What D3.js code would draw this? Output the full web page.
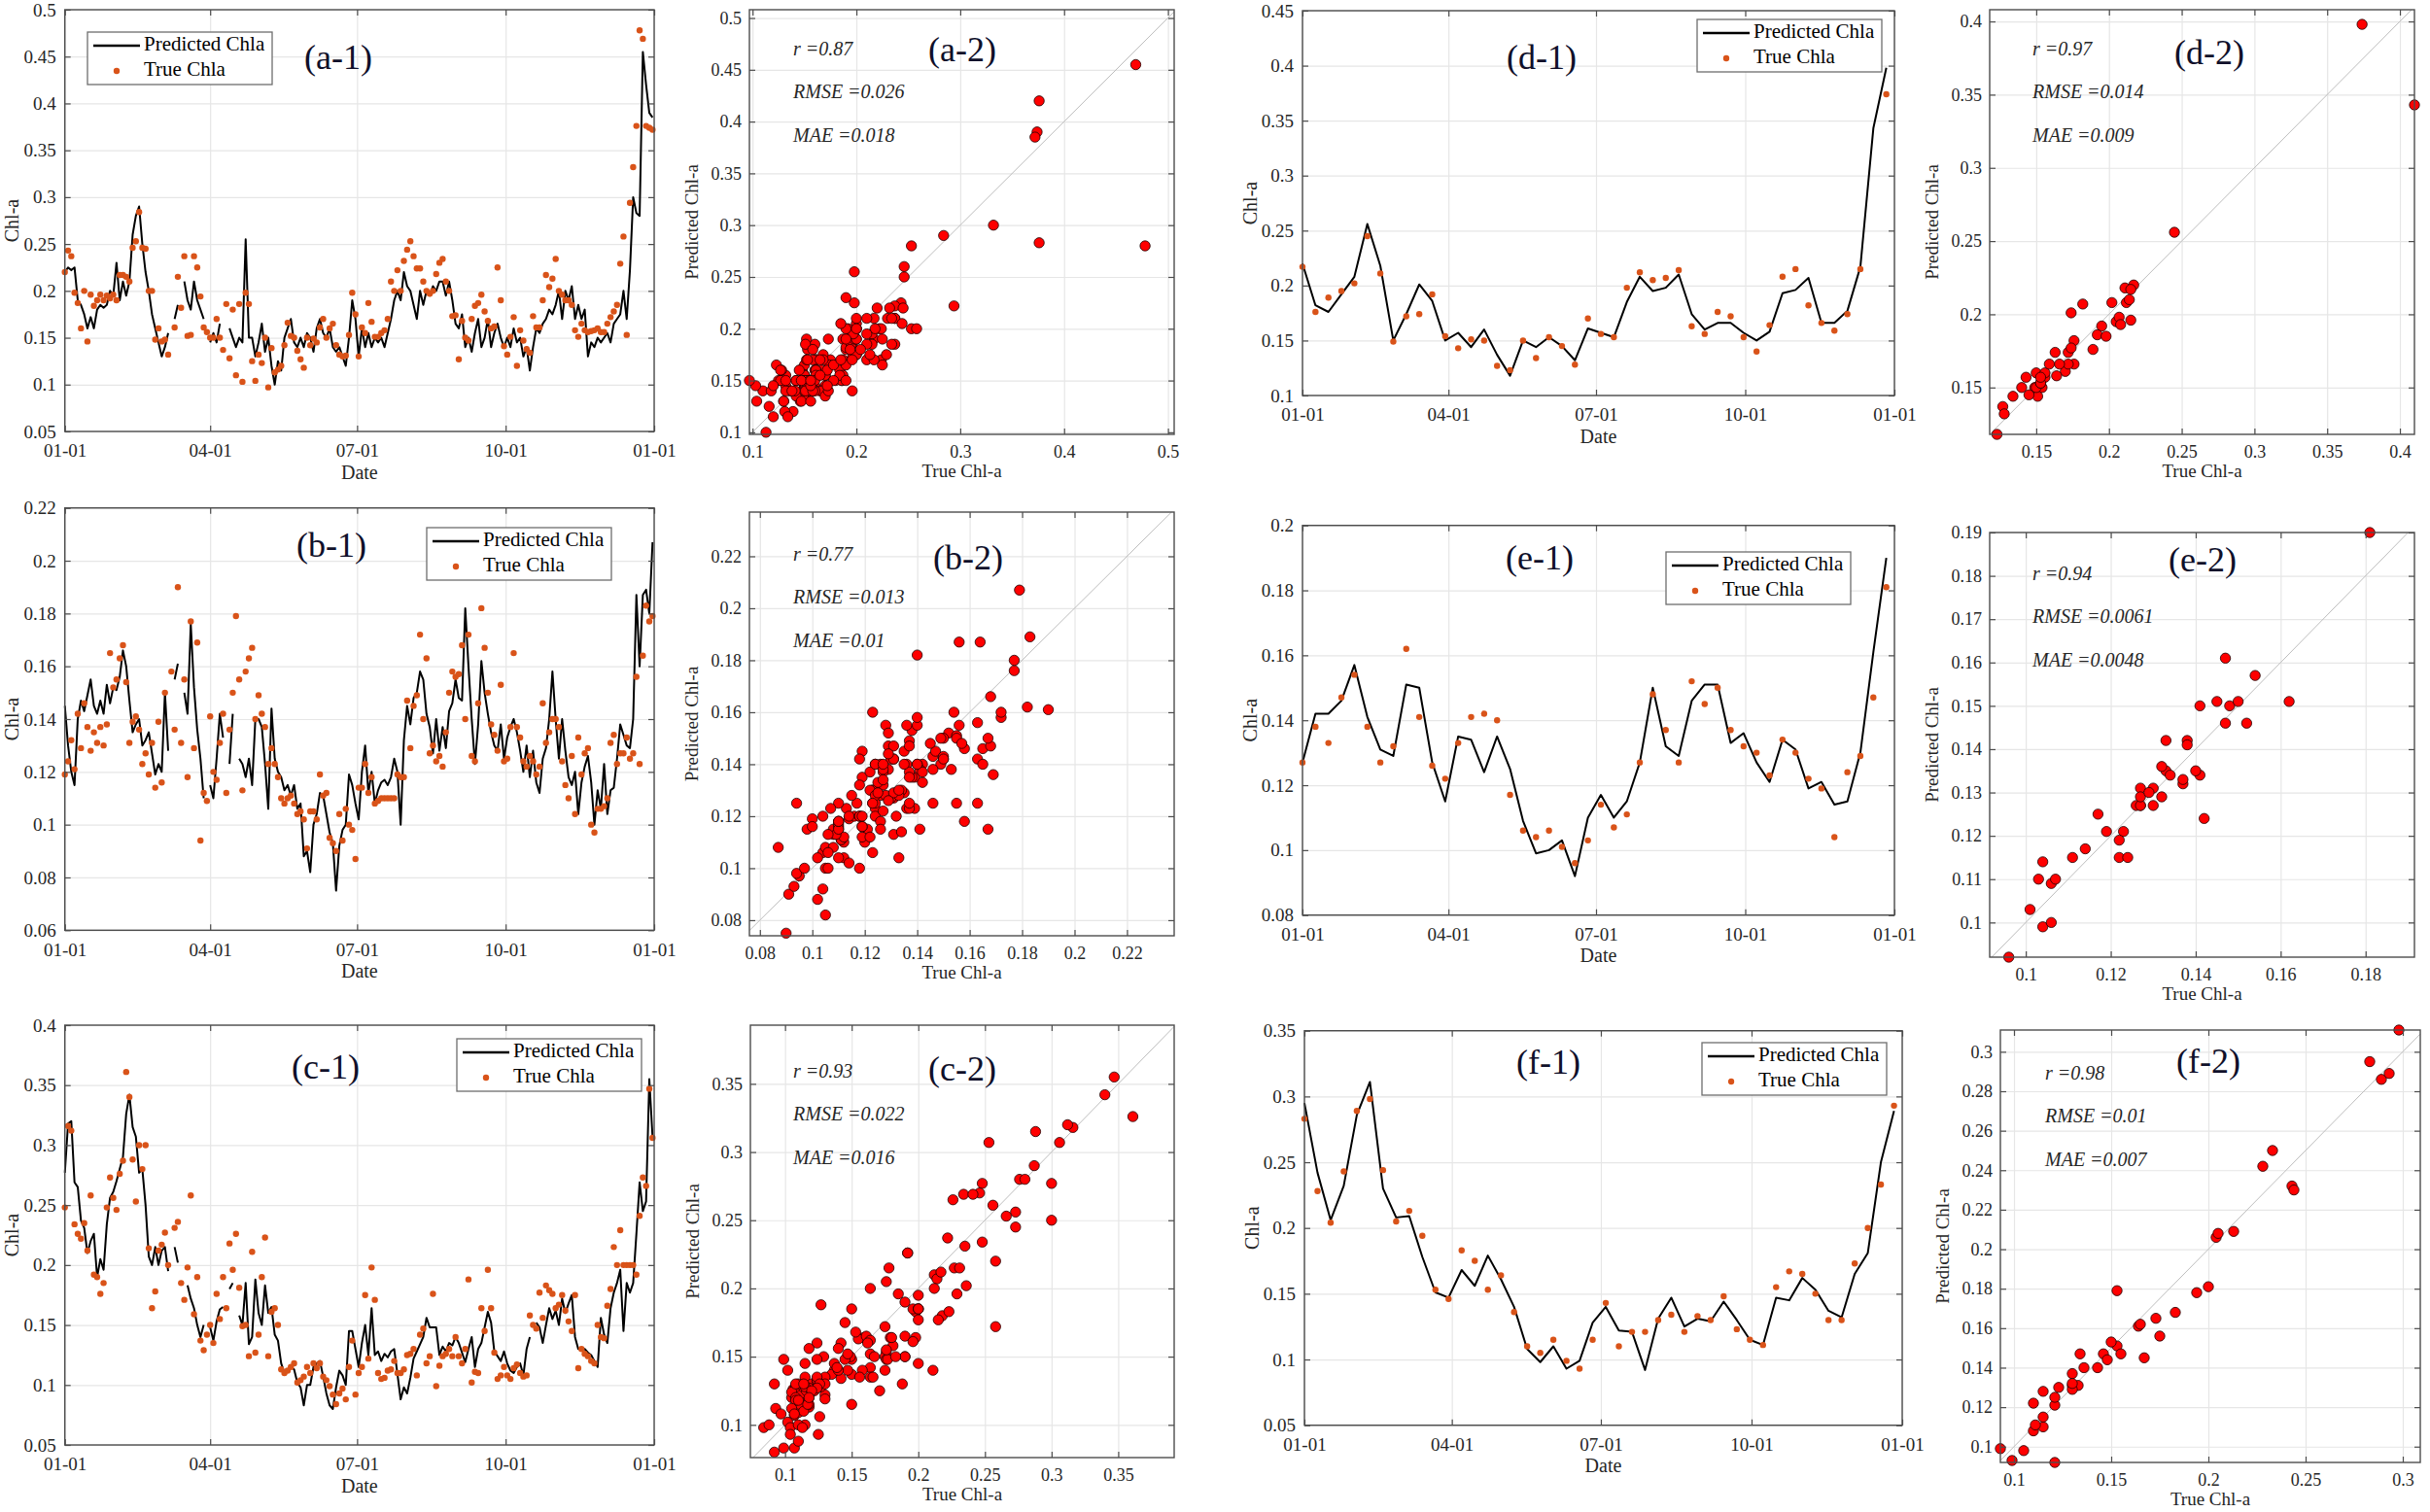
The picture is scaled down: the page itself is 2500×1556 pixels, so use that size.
<!DOCTYPE html>
<html>
<head>
<meta charset="utf-8">
<script src="https://cdn.jsdelivr.net/npm/d3@7"></script>
<style>
  body { margin: 0; background: #fff; }
  text { font-family: "Liberation Serif", "DejaVu Serif", serif; }
</style>
</head>
<body>
<svg id="chart"></svg>
<script>
// sample days (day of year) : daily panels every 2nd day, 8-day composites for d/e/f
const dayDaily = d3.range(0, 365, 2);
const day8 = d3.range(0, 361, 8);

const dateTicks = [0, 90, 181, 273, 365];
const dateLabels = ["01-01", "04-01", "07-01", "10-01", "01-01"];

// (a) predicted / true
const predA = [.22,.225,.222,.225,.19,.185,.175,.16,.172,.16,
  .18,.185,.182,.185,.2,.195,.23,.19,.21,.195,
  .21,.26,.28,.29,.25,.22,.2,.175,.16,.145,
  .13,.14,.155,null,.17,.185,null,.21,.19,.18,
  .21,.19,.18,.17,null,.145,.155,.145,.165,null,
  null,.16,.15,.14,.15,.145,.255,.15,.15,.13,
  .145,.165,.135,.15,.12,.1,.125,.115,.15,.16,
  .17,.145,.14,.15,.14,.155,.15,.135,.16,.17,
  .155,.15,.16,.14,.135,.14,.13,.12,.15,.19,
  .17,.13,.16,.14,.155,.14,.15,.145,.15,.14,
  .155,.17,.19,.2,.19,.22,.205,.2,.185,.17,
  .2,.185,.2,.195,.205,.2,.21,.21,.195,.21,
  .19,.165,.16,.175,.14,.15,.135,.155,.17,.14,
  .15,.17,.14,.155,.165,.15,.14,.15,.14,.16,
  .145,.15,.13,.14,.115,.14,.16,.155,.165,.17,
  .18,.175,.185,.2,.17,.2,.19,.205,.17,.185,
  .17,.18,.13,.145,.14,.15,.145,.15,.155,.145,
  .165,.17,.175,.2,.17,.222,.30,.283,.28,.455,
  .42,.39,.385];
const trueA = [.22,.243,.237,.198,.187,.16,.2,.146,.196,.184,
  .19,.196,.19,.195,.192,.196,.19,.217,.217,.215,
  .21,.246,.253,.284,.246,.245,.2,.2,.148,.16,
  .146,.148,.132,null,.161,.215,.182,.237,.152,.153,
  .237,.225,.194,.161,.156,.15,.15,.17,.15,.137,
  .186,.128,.18,.11,.186,.103,.198,.186,.125,.104,
  .132,.123,.15,.097,.139,.113,.116,.12,.142,.166,
  .152,.15,.136,.127,.118,.15,.142,.149,.145,.161,
  .17,.15,.16,.165,.142,.132,.13,.131,.153,.198,
  .175,.13,.161,.155,.187,.167,.151,.151,.155,.158,
  .17,.21,.2,.222,.2,.232,.244,.253,.237,.224,
  .224,.21,.2,.197,.2,.218,.23,.234,.21,.2,
  .173,.174,.127,.168,.15,.147,.17,.184,.187,.196,
  .178,.168,.16,.162,.225,.19,.141,.132,.151,.172,
  .12,.158,.147,.138,.134,.173,.161,.161,.19,.217,
  .204,.213,.234,.2,.196,.19,.19,.185,.158,.151,
  .165,.158,.156,.157,.158,.16,.156,.156,.165,.172,
  .178,.185,.229,.258,.153,.294,.332,.376,.478,.469,
  .376,.374,.372];

// (b)
const predB = [.145,.13,.12,.115,.14,.147,.143,.149,.155,.145,
  .142,.147,.142,.153,.146,.152,.151,.156,.166,.16,
  .147,.135,.138,.14,.13,.132,.135,.127,.119,.123,
  .12,.15,.128,null,.155,.161,null,.15,.142,.176,
  .152,.136,.125,.11,null,.115,.11,.125,.142,.133,
  null,.123,.142,null,.125,.123,.118,.125,.115,.14,
  .14,.137,.123,.106,.144,.125,.12,.118,.113,.115,
  .111,.115,.106,.108,.088,.09,.082,.1,.104,.112,
  .111,.104,.097,.093,.075,.092,.098,.1,.119,.115,
  .108,.102,.12,.13,.112,.12,.108,.113,.116,.117,
  .115,.118,.125,.12,.1,.132,.145,.138,.148,.15,
  .158,.155,.142,.137,.127,.14,.128,.137,.129,.143,
  .146,.155,.148,.147,.182,.16,.14,.123,.138,.162,
  .15,.142,.135,.13,.128,.138,.125,.133,.137,.14,
  .135,.128,.12,.13,.118,.128,.116,.112,.125,.129,
  .14,.158,.14,.125,.14,.128,.118,.115,.12,.104,
  .116,.122,.126,.116,.1,.113,.106,.123,.104,.113,
  .114,.125,.138,.134,.13,.129,.14,.187,.16,.187,
  .189,.18,.207];
const trueB = [.119,.124,.132,.121,.142,.129,.146,.137,.128,.135,
  .131,.137,.13,.138,.165,.152,.155,.163,.168,.154,
  .131,.139,.141,.136,.123,.127,.119,.131,.114,.139,
  .116,.15,null,.158,.136,.19,.131,.155,.118,.177,
  .129,.169,.094,.112,.109,.141,.12,.117,.131,.142,
  .112,.136,.15,.179,.155,.113,.158,.163,.167,.14,
  .149,.142,.137,.123,.129,.123,.118,.11,.108,.11,
  .111,.108,.104,.105,.102,.091,.105,.105,.102,.119,
  .111,.112,.095,.093,.09,.104,.094,.106,.1,.098,
  .087,.114,.114,.123,.112,.118,.108,.109,.11,.11,
  .11,.11,.11,.119,.118,.118,.147,.129,.145,.149,
  .172,.14,.163,.127,.13,.124,.126,.122,.135,.15,
  .158,.156,.157,.168,.14,.172,.126,.124,.146,.182,
  .167,.15,.138,.134,.128,.153,.124,.125,.137,.165,
  .137,.133,.124,.122,.126,.124,.119,.122,.146,.131,
  .135,.14,.14,.137,.124,.115,.11,.126,.104,.133,
  .119,.127,.129,.1,.097,.106,.106,.107,.11,.131,
  .134,.123,.127,.127,.133,.125,.127,.156,.123,.164,
  .183,.177,.179];

// (c)
const predC = [.277,.318,.32,.269,.265,.237,.231,.21,.22,.226,
  .19,.205,.196,.234,.256,.261,.27,.28,.29,.326,
  .342,.315,.307,.277,.28,.25,.207,.2,.215,.2,
  .212,.215,.195,null,.215,.202,null,null,.183,.172,
  .164,.15,.14,.15,null,.148,.137,.153,.163,.165,
  null,.18,.185,null,.158,.15,.185,.134,.14,.188,
  .16,.15,.183,.16,.165,.142,.137,.118,.11,.112,
  .115,.113,.102,.098,.083,.1,.1,.115,.118,.12,
  .107,.093,.083,.08,.098,.112,.108,.1,.145,.145,
  .13,.115,.135,.15,.125,.164,.125,.128,.12,.126,
  .123,.128,.13,.109,.088,.098,.093,.106,.122,.128,
  .134,.14,.156,.148,.148,.148,.125,.132,.128,.135,
  .133,.14,.135,.127,.119,.13,.14,.115,.13,.135,
  .148,.161,.152,.128,.124,.12,.128,.118,.112,.11,
  .115,.118,.108,.13,.14,null,.152,.148,.135,.15,
  .164,.155,.162,.15,.172,.16,.168,.175,.14,.13,
  .13,.13,.127,.125,.12,.115,.156,.142,.135,.164,
  .177,.185,.196,.145,.185,.177,.185,.226,.269,.245,
  .253,.355,.307];
const trueC = [.248,.316,.312,.234,.226,.222,.235,.212,.258,.192,
  .19,.176,.185,.248,.273,.256,.246,.276,.287,.361,
  .34,.288,.253,.3,.28,.3,.214,.164,.178,.212,
  .217,.227,.2,null,.231,.236,.185,.171,.198,.258,
  .159,.19,.137,.129,.142,.15,.135,.176,.155,.19,
  .164,.218,.196,.226,.181,.149,.15,.124,.211,.127,
  .142,.19,.223,.124,.161,.164,.15,.113,.11,.112,
  .115,.118,.102,.104,.107,.115,.11,.118,.114,.118,
  .107,.104,.099,.092,.084,.093,.097,.088,.115,.137,
  .092,.11,.115,.175,.122,.198,.171,.11,.105,.106,
  .112,.113,.12,.11,.11,.113,.125,.126,.13,.108,
  .142,.147,.118,.124,.176,.099,.116,.124,.126,.13,
  .124,.14,.124,.118,.13,.188,.102,.111,.11,.164,
  .145,.196,.164,.127,.105,.108,.115,.108,.105,.114,
  .117,.11,.107,.108,.158,.15,.147,.177,.156,.183,
  .179,.176,.164,.167,.175,.162,.153,.145,.175,.114,
  .13,.126,.124,.12,.118,.15,.14,.139,.166,.18,
  .215,.2,.229,.2,.2,.2,.2,.192,.241,.273,
  .266,.347,.306];

// (d), (e), (f) 8-day
const predD = [.22,.182,.176,.192,.208,.256,.218,.15,.174,.201,.186,.15,.157,.144,.16,.137,.118,.15,.144,.153,.145,.132,.161,.157,.153,.185,.208,.195,.198,.21,.174,.16,.166,.166,.157,.15,.158,.193,.196,.207,.166,.166,.177,.217,.343,.398];
const trueD = [.217,.176,.189,.195,.202,.245,.211,.149,.172,.174,.192,.154,.143,.151,.15,.127,.123,.15,.134,.153,.145,.128,.17,.156,.153,.198,.212,.205,.207,.214,.163,.156,.176,.172,.153,.14,.164,.208,.215,.182,.166,.159,.174,.215,.41,.374];
const predE = [.127,.142,.142,.146,.157,.141,.131,.129,.151,.15,.127,.115,.135,.134,.124,.135,.125,.109,.099,.1,.103,.092,.11,.117,.11,.115,.127,.15,.132,.129,.146,.151,.151,.133,.136,.127,.121,.134,.131,.119,.121,.114,.115,.13,.161,.19];
const trueE = [.127,.138,.133,.147,.154,.138,.127,.132,.162,.141,.126,.122,.133,.141,.142,.14,.117,.106,.104,.106,.101,.096,.103,.114,.107,.111,.127,.148,.137,.127,.152,.145,.15,.137,.132,.13,.123,.134,.13,.122,.119,.104,.124,.129,.147,.181];
const predF = [.295,.242,.206,.232,.286,.311,.23,.208,.209,.178,.151,.147,.168,.156,.179,.161,.14,.108,.098,.11,.093,.099,.128,.14,.122,.121,.092,.131,.147,.125,.131,.129,.144,.13,.115,.111,.147,.145,.162,.153,.137,.132,.165,.181,.25,.289];
const trueF = [.283,.228,.204,.243,.289,.298,.244,.205,.213,.194,.153,.146,.183,.175,.153,.164,.136,.11,.105,.115,.099,.093,.115,.143,.11,.121,.121,.13,.134,.121,.133,.13,.148,.123,.115,.111,.155,.167,.165,.15,.13,.13,.173,.2,.233,.293];

// scores
const statR = ["0.87", "0.77", "0.93", "0.97", "0.94", "0.98"];
const statRMSE = ["0.026", "0.013", "0.022", "0.014", "0.0061", "0.01"];
const statMAE = ["0.018", "0.01", "0.016", "0.009", "0.0048", "0.007"];

// tick values
const ticksA = [.05,.1,.15,.2,.25,.3,.35,.4,.45,.5];
const ticksB = [.06,.08,.1,.12,.14,.16,.18,.2,.22];
const ticksC = [.05,.1,.15,.2,.25,.3,.35,.4];
const ticksD = [.1,.15,.2,.25,.3,.35,.4,.45];
const ticksE = [.08,.1,.12,.14,.16,.18,.2];
const ticksF = [.05,.1,.15,.2,.25,.3,.35];
const sxA = [.1,.2,.3,.4,.5], syA = [.1,.15,.2,.25,.3,.35,.4,.45,.5];
const sxB = [.08,.1,.12,.14,.16,.18,.2,.22], syB = sxB;
const sxC = [.1,.15,.2,.25,.3,.35], syC = sxC;
const sxD = [.15,.2,.25,.3,.35,.4], syD = sxD;
const sxE = [.1,.12,.14,.16,.18], syE = [.1,.11,.12,.13,.14,.15,.16,.17,.18,.19];
const sxF = [.1,.15,.2,.25,.3], syF = [.1,.12,.14,.16,.18,.2,.22,.24,.26,.28,.3];

const GRID = "#e6e6e6";
const AXIS = "#4d4d4d";
const INK = "#262626";
const TRUE_COLOR = "#d95319";
const LABEL_INK = "#10102a";
const fmt = d3.format("~g");

const svg = d3.select("#chart")
    .attr("width", 2500)
    .attr("height", 1556);
svg.append("rect").attr("width", 2500).attr("height", 1556).attr("fill", "#fff");

// grid lines under the data
function frame(g, x, y, xt, yt, x0, x1, y0, y1) {
    g.append("g").attr("transform", `translate(${x0},0)`)
        .call(d3.axisLeft(y).tickValues(yt).tickSize(-(x1 - x0)).tickFormat(""))
        .call(s => s.select(".domain").remove())
        .call(s => s.selectAll("line").attr("stroke", GRID).attr("stroke-width", 1.2));
    g.append("g").attr("transform", `translate(0,${y1})`)
        .call(d3.axisBottom(x).tickValues(xt).tickSize(-(y1 - y0)).tickFormat(""))
        .call(s => s.select(".domain").remove())
        .call(s => s.selectAll("line").attr("stroke", GRID).attr("stroke-width", 1.2));
}

// box with inward ticks on all four sides
function axes(g, x, y, xt, yt, x0, x1, y0, y1, xFmt, fs, padX, padY) {
    const styleAx = s => {
        s.select(".domain").remove();
        s.selectAll("line").attr("stroke", AXIS).attr("stroke-width", 1.2);
        s.selectAll("text").attr("fill", INK).style("font-size", fs + "px")
            .style("font-family", "'Liberation Serif', serif");
    };
    g.append("g").attr("transform", `translate(${x0},0)`)
        .call(d3.axisLeft(y).tickValues(yt).tickSize(-6).tickPadding(padY).tickFormat(fmt)).call(styleAx);
    g.append("g").attr("transform", `translate(${x1},0)`)
        .call(d3.axisRight(y).tickValues(yt).tickSize(-6).tickFormat("")).call(styleAx);
    g.append("g").attr("transform", `translate(0,${y1})`)
        .call(d3.axisBottom(x).tickValues(xt).tickSize(-6).tickPadding(padX).tickFormat(xFmt)).call(styleAx);
    g.append("g").attr("transform", `translate(0,${y0})`)
        .call(d3.axisTop(x).tickValues(xt).tickSize(-6).tickFormat("")).call(styleAx);
    g.append("rect")
        .attr("x", x0).attr("y", y0)
        .attr("width", x1 - x0).attr("height", y1 - y0)
        .attr("fill", "none").attr("stroke", AXIS).attr("stroke-width", 1.4);
}

// time series panels
const seriesPanels = [
    { name: "(a-1)", days: dayDaily, pred: predA, obs: trueA, yDom: [.05, .5], yt: ticksA,
      box: [66.7, 673, 10, 444], tag: [348, 63], leg: [90, 33] },
    { name: "(b-1)", days: dayDaily, pred: predB, obs: trueB, yDom: [.06, .22], yt: ticksB,
      box: [66.7, 673, 522.7, 957.3], tag: [341, 565], leg: [439, 543] },
    { name: "(c-1)", days: dayDaily, pred: predC, obs: trueC, yDom: [.05, .4], yt: ticksC,
      box: [66.7, 673, 1055, 1487], tag: [335, 1102], leg: [470, 1069] },
    { name: "(d-1)", days: day8, pred: predD, obs: trueD, yDom: [.1, .45], yt: ticksD,
      box: [1340, 1949, 11, 407], tag: [1586, 63], leg: [1746, 20] },
    { name: "(e-1)", days: day8, pred: predE, obs: trueE, yDom: [.08, .2], yt: ticksE,
      box: [1340, 1949, 540.7, 941.7], tag: [1584, 578], leg: [1714, 568] },
    { name: "(f-1)", days: day8, pred: predF, obs: trueF, yDom: [.05, .35], yt: ticksF,
      box: [1342, 1957, 1060.7, 1466.7], tag: [1593, 1097], leg: [1751, 1073] }
];

seriesPanels.forEach(p => {
    const [x0, x1, y0, y1] = p.box;
    const x = d3.scaleLinear().domain([0, 365]).range([x0, x1]);
    const y = d3.scaleLinear().domain(p.yDom).range([y1, y0]);
    const g = svg.append("g");
    const rows = p.days.map((d, i) => ({ day: d, p: p.pred[i], t: p.obs[i] }));

    frame(g, x, y, dateTicks, p.yt, x0, x1, y0, y1);

    g.append("path")
        .datum(rows)
        .attr("d", d3.line().defined(r => r.p != null).x(r => x(r.day)).y(r => y(r.p)))
        .attr("fill", "none")
        .attr("stroke", "#000")
        .attr("stroke-width", 2)
        .attr("stroke-linejoin", "round");

    g.append("g").selectAll("circle")
        .data(rows.filter(r => r.t != null))
        .join("circle")
        .attr("cx", r => x(r.day))
        .attr("cy", r => y(r.t))
        .attr("r", 3.2)
        .attr("fill", TRUE_COLOR);

    axes(g, x, y, dateTicks, p.yt, x0, x1, y0, y1, (d, i) => dateLabels[i], 19, 13, 9);

    g.append("text")
        .attr("transform", `translate(${x0 - 52},${(y0 + y1) / 2}) rotate(-90)`)
        .attr("text-anchor", "middle")
        .attr("dominant-baseline", "middle")
        .style("font-size", "20px")
        .attr("fill", INK)
        .text("Chl-a");
    g.append("text")
        .attr("x", (x0 + x1) / 2)
        .attr("y", y1 + 44)
        .attr("text-anchor", "middle")
        .attr("dominant-baseline", "middle")
        .style("font-size", "20px")
        .attr("fill", INK)
        .text("Date");

    g.append("text")
        .attr("x", p.tag[0]).attr("y", p.tag[1])
        .attr("text-anchor", "middle")
        .attr("dominant-baseline", "middle")
        .style("font-size", "36px")
        .attr("fill", LABEL_INK)
        .text(p.name);

    // legend
    const [lx, ly] = p.leg;
    const lg = g.append("g").attr("transform", `translate(${lx},${ly})`);
    lg.append("rect")
        .attr("width", 190).attr("height", 54)
        .attr("fill", "#fff").attr("stroke", "#6e6e6e").attr("stroke-width", 1.3);
    lg.append("line")
        .attr("x1", 6).attr("x2", 54).attr("y1", 14).attr("y2", 14)
        .attr("stroke", "#000").attr("stroke-width", 2.5);
    lg.append("circle").attr("cx", 30).attr("cy", 40).attr("r", 3.2).attr("fill", TRUE_COLOR);
    lg.append("text").attr("x", 58).attr("y", 14)
        .attr("dominant-baseline", "middle").style("font-size", "21px").attr("fill", "#000")
        .text("Predicted Chla");
    lg.append("text").attr("x", 58).attr("y", 40)
        .attr("dominant-baseline", "middle").style("font-size", "21px").attr("fill", "#000")
        .text("True Chla");
});

// scatter panels
const scatterPanels = [
    { name: "(a-2)", pred: predA, obs: trueA, xDom: [.097, .506], yDom: [.098, .508], xt: sxA, yt: syA,
      box: [771, 1208, 10, 447], tag: [990, 55], st: [816, 52] },
    { name: "(b-2)", pred: predB, obs: trueB, xDom: [.076, .238], yDom: [.074, .237], xt: sxB, yt: syB,
      box: [771, 1208, 527, 963], tag: [996, 578], st: [816, 572] },
    { name: "(c-2)", pred: predC, obs: trueC, xDom: [.074, .392], yDom: [.076, .393], xt: sxC, yt: syC,
      box: [772, 1208, 1055, 1500], tag: [990, 1104], st: [816, 1104] },
    { name: "(d-2)", pred: predD, obs: trueD, xDom: [.118, .41], yDom: [.118, .408], xt: sxD, yt: syD,
      box: [2047, 2484, 10, 447], tag: [2273, 58], st: [2091, 52] },
    { name: "(e-2)", pred: predE, obs: trueE, xDom: [.0915, .1915], yDom: [.092, .19], xt: sxE, yt: syE,
      box: [2047, 2484, 548, 985], tag: [2266, 580], st: [2091, 592] },
    { name: "(f-2)", pred: predF, obs: trueF, xDom: [.093, .309], yDom: [.092, .311], xt: sxF, yt: syF,
      box: [2058, 2490, 1060, 1505], tag: [2272, 1096], st: [2104, 1106] }
];

scatterPanels.forEach((p, k) => {
    const [x0, x1, y0, y1] = p.box;
    const x = d3.scaleLinear().domain(p.xDom).range([x0, x1]);
    const y = d3.scaleLinear().domain(p.yDom).range([y1, y0]);
    const g = svg.append("g");
    const pts = p.obs.map((t, i) => ({ t: t, p: p.pred[i] })).filter(d => d.t != null && d.p != null);

    frame(g, x, y, p.xt, p.yt, x0, x1, y0, y1);

    const lo = Math.max(p.xDom[0], p.yDom[0]);
    const hi = Math.min(p.xDom[1], p.yDom[1]);
    g.append("line")
        .attr("x1", x(lo)).attr("y1", y(lo))
        .attr("x2", x(hi)).attr("y2", y(hi))
        .attr("stroke", "#bdbdbd").attr("stroke-width", 1);

    g.append("g").selectAll("circle")
        .data(pts)
        .join("circle")
        .attr("cx", d => x(d.t))
        .attr("cy", d => y(d.p))
        .attr("r", 5.2)
        .attr("fill", "#ff0000")
        .attr("stroke", "#1a0000")
        .attr("stroke-width", 0.8);

    axes(g, x, y, p.xt, p.yt, x0, x1, y0, y1, fmt, 18, 11, 8);

    g.append("text")
        .attr("transform", `translate(${x0 - 57},${(y0 + y1) / 2}) rotate(-90)`)
        .attr("text-anchor", "middle")
        .attr("dominant-baseline", "middle")
        .style("font-size", "19px")
        .attr("fill", INK)
        .text("Predicted Chl-a");
    g.append("text")
        .attr("x", (x0 + x1) / 2)
        .attr("y", y1 + 40)
        .attr("text-anchor", "middle")
        .attr("dominant-baseline", "middle")
        .style("font-size", "19px")
        .attr("fill", INK)
        .text("True Chl-a");

    const lines = [`r =${statR[k]}`, `RMSE =${statRMSE[k]}`, `MAE =${statMAE[k]}`];
    g.append("g").selectAll("text")
        .data(lines)
        .join("text")
        .attr("x", p.st[0])
        .attr("y", (d, i) => p.st[1] + i * 44.5)
        .attr("dominant-baseline", "middle")
        .style("font-size", "20px")
        .style("font-style", "italic")
        .attr("fill", INK)
        .text(d => d);

    g.append("text")
        .attr("x", p.tag[0]).attr("y", p.tag[1])
        .attr("text-anchor", "middle")
        .attr("dominant-baseline", "middle")
        .style("font-size", "36px")
        .attr("fill", LABEL_INK)
        .text(p.name);
});
</script>
</body>
</html>
